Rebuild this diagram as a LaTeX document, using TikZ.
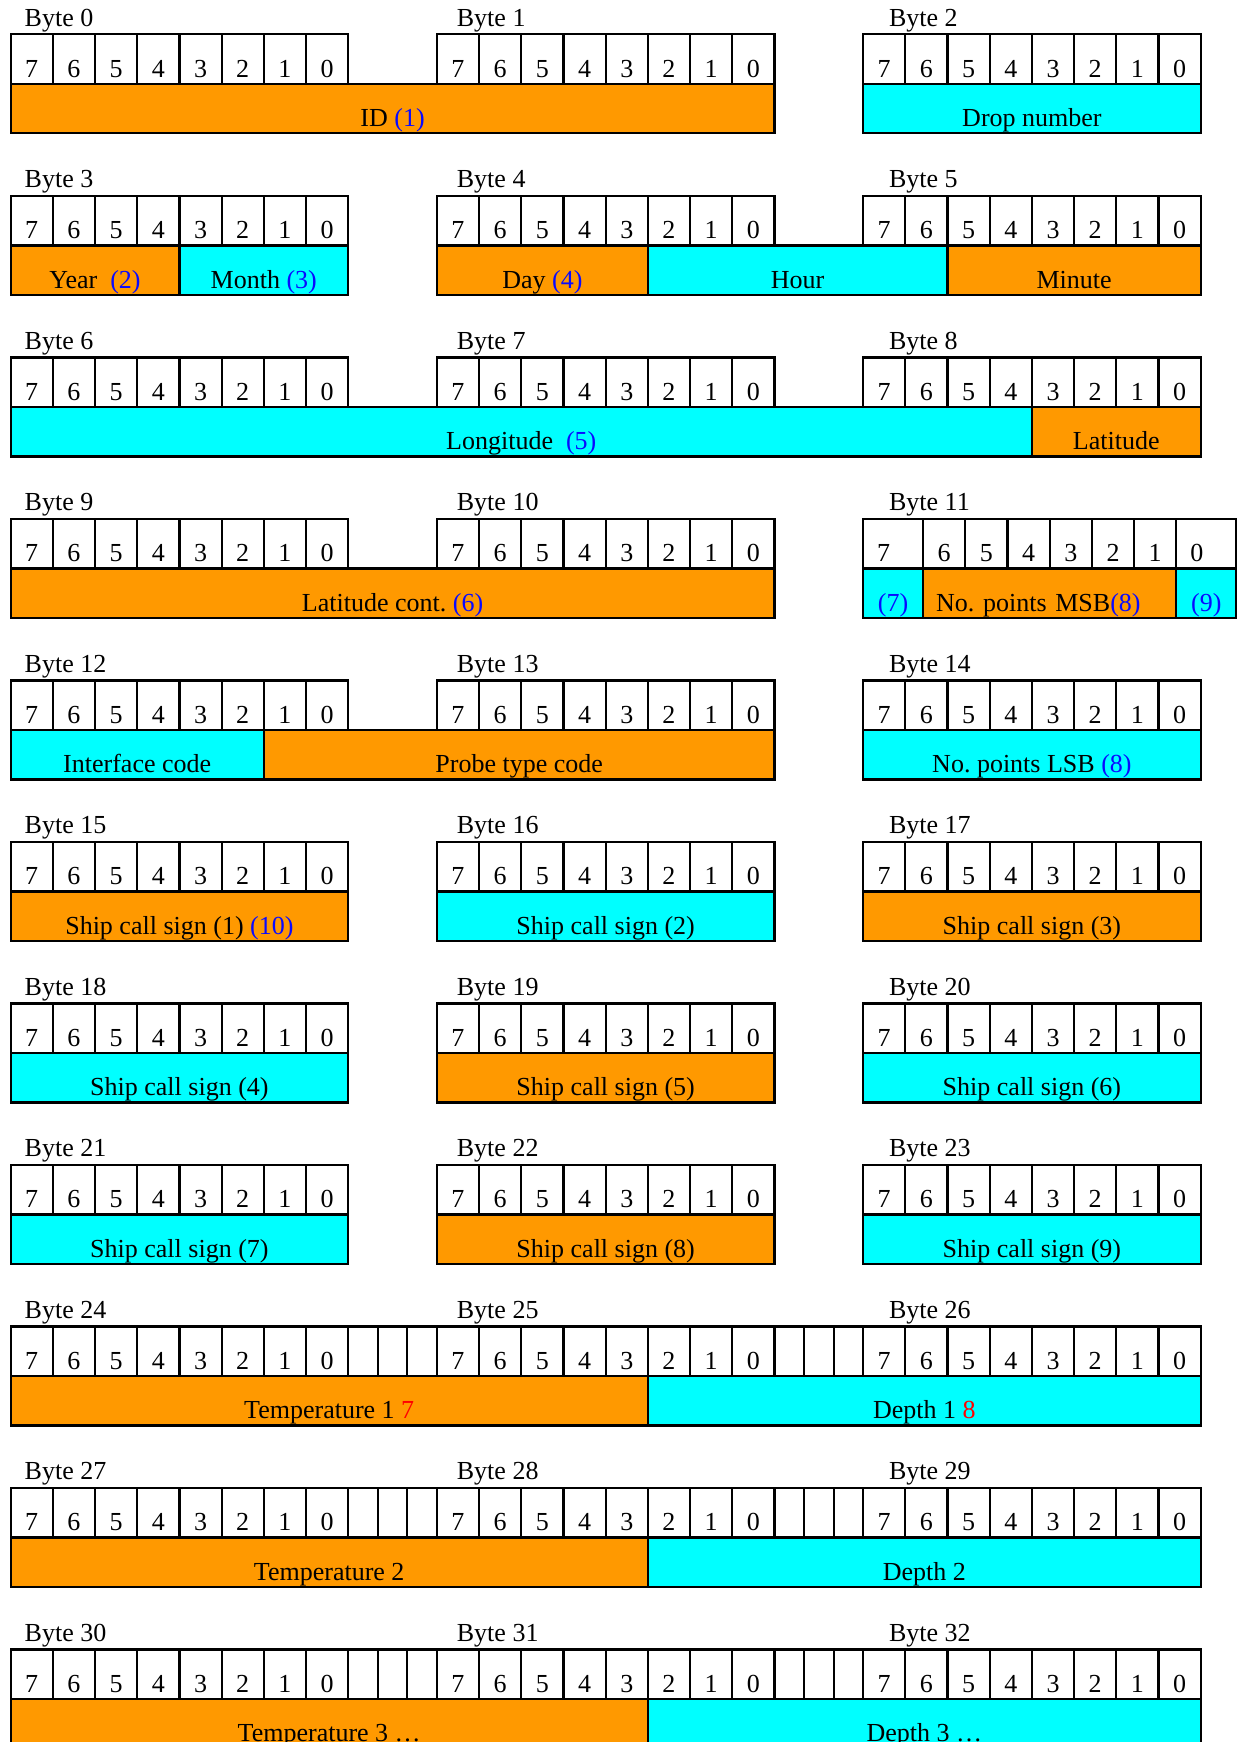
\documentclass[tikz,border=0pt]{standalone}
\usepackage{fontspec}
\setmainfont{Liberation Serif}
\usetikzlibrary{positioning}
\definecolor{naranja}{RGB}{255,153,0}
\definecolor{cian}{RGB}{0,255,255}
\definecolor{numazul}{RGB}{10,10,255}
\definecolor{numrojo}{RGB}{255,0,0}
\newcommand{\az}[1]{\textcolor{numazul}{#1}}
\newcommand{\rj}[1]{\textcolor{numrojo}{#1}}
\tikzset{
  bitcell/.style={draw, line width=2.2pt, anchor=north west, inner sep=0pt, minimum width=42.2pt, minimum height=49.5pt, text height=42.8pt, text depth=6.7pt, font=\fontsize{26}{30}\selectfont},
  bitwide/.style={bitcell, minimum width=60pt, text width=32pt, inner xsep=14pt, align=left},
  bitgap/.style={bitcell, minimum width=29.57pt},
  campo/.style={draw, line width=2.2pt, anchor=north west, inner sep=0pt, minimum height=49.5pt, text height=43pt, text depth=6.5pt, font=\fontsize{26}{30}\selectfont},
  etiq/.style={anchor=base west, inner sep=0pt, font=\fontsize{26}{30}\selectfont},
}
% one byte: name, left x, top y
\newcommand{\octeto}[3]{%
  \foreach \b [count=\i from 0] in {7,6,...,0}
    \node[bitcell] (#1b\b) at ({#2+\i*42.2},{#3}) {\b};%
}
% one field: [options], name, colour, x from, x to, top y, text
\newcommand{\campo}[7][]{%
  \node[campo, fill=#3, minimum width={#5pt-#4pt}, #1] (#2) at (#4,#6) {#7};%
}
\frenchspacing
\begin{document}
\begin{tikzpicture}[x=1pt, y=-1pt]
  \useasboundingbox (0,0) rectangle (1239,1742);
  \clip (0,0) rectangle (1239,1742);
  % bit cells and byte labels
  \foreach \r in {0,...,10} {
    \pgfmathsetmacro{\Y}{33.3+161.5*\r}
    \foreach \c/\xl in {0/24.5,1/456.7,2/888.9} {
      \pgfmathtruncatemacro{\n}{3*\r+\c}
      \node[etiq] (lbl\n) at ({\xl},{\Y-7}) {Byte \n};
      \ifnum\n=11 \else \octeto{o\n}{9.5+426.25*\c}{\Y}\fi
    }
  }
  % byte 11 has wider outer bits
  \node[bitwide] (o11b7) at (862,517.8) {7};
  \foreach \b [count=\i from 0] in {6,...,1}
    \node[bitcell] (o11b\b) at ({922+\i*42.2},517.8) {\b};
  \node[bitwide] (o11b0) at (1175.2,517.8) {0};
  % empty cells between bytes
  \foreach \r in {8,9,10}
    \foreach \c in {0,1}
      \foreach \g in {0,1,2}
        \node[bitgap] (h\r\c\g) at ({347.1+426.25*\c+29.57*\g},{33.3+161.5*\r}) {};

  % fields
  \campo{id}{naranja}{9.5}{773.4}{82.8}{ID \az{(1)}}
  \campo{drop}{cian}{862}{1199.6}{82.8}{Drop number}
  \campo{year}{naranja}{9.5}{178.3}{244.3}{Year~ \az{(2)}}
  \campo{month}{cian}{178.3}{347.1}{244.3}{Month \az{(3)}}
  \campo{day}{naranja}{435.75}{646.75}{244.3}{Day \az{(4)}}
  \campo{hour}{cian}{646.75}{946.4}{244.3}{Hour}
  \campo{minute}{naranja}{946.4}{1199.6}{244.3}{Minute}
  \campo{lon}{cian}{9.5}{1030.8}{405.8}{Longitude~ \az{(5)}}
  \campo{lat}{naranja}{1030.8}{1199.6}{405.8}{Latitude}
  \campo{latc}{naranja}{9.5}{773.4}{567.3}{Latitude cont. \az{(6)}}
  \campo{f7}{cian}{862}{922}{567.3}{\az{(7)}}
  \campo[text width=227pt, inner xsep=13pt, align=left]{msb}{naranja}{922}{1175.2}{567.3}{No. points MSB\az{(8)}}
  \campo{f9}{cian}{1175.2}{1235.2}{567.3}{\az{(9)}}
  \campo{iface}{cian}{9.5}{262.7}{728.8}{Interface code}
  \campo{probe}{naranja}{262.7}{773.4}{728.8}{Probe type code}
  \campo{lsb}{cian}{862}{1199.6}{728.8}{No. points LSB \az{(8)}}
  \campo{scs1}{naranja}{9.5}{347.1}{890.3}{Ship call sign (1) \az{(10)}}
  \campo{scs2}{cian}{435.75}{773.4}{890.3}{Ship call sign (2)}
  \campo{scs3}{naranja}{862}{1199.6}{890.3}{Ship call sign (3)}
  \campo{scs4}{cian}{9.5}{347.1}{1051.8}{Ship call sign (4)}
  \campo{scs5}{naranja}{435.75}{773.4}{1051.8}{Ship call sign (5)}
  \campo{scs6}{cian}{862}{1199.6}{1051.8}{Ship call sign (6)}
  \campo{scs7}{cian}{9.5}{347.1}{1213.3}{Ship call sign (7)}
  \campo{scs8}{naranja}{435.75}{773.4}{1213.3}{Ship call sign (8)}
  \campo{scs9}{cian}{862}{1199.6}{1213.3}{Ship call sign (9)}
  \campo{temp1}{naranja}{9.5}{646.75}{1374.8}{Temperature 1 \rj{7}}
  \campo{depth1}{cian}{646.75}{1199.6}{1374.8}{Depth 1 \rj{8}}
  \campo{temp2}{naranja}{9.5}{646.75}{1536.3}{Temperature 2}
  \campo{depth2}{cian}{646.75}{1199.6}{1536.3}{Depth 2}
  \campo{temp3}{naranja}{9.5}{646.75}{1697.8}{Temperature 3 …}
  \campo{depth3}{cian}{646.75}{1199.6}{1697.8}{Depth 3 …}
\end{tikzpicture}
\end{document}
